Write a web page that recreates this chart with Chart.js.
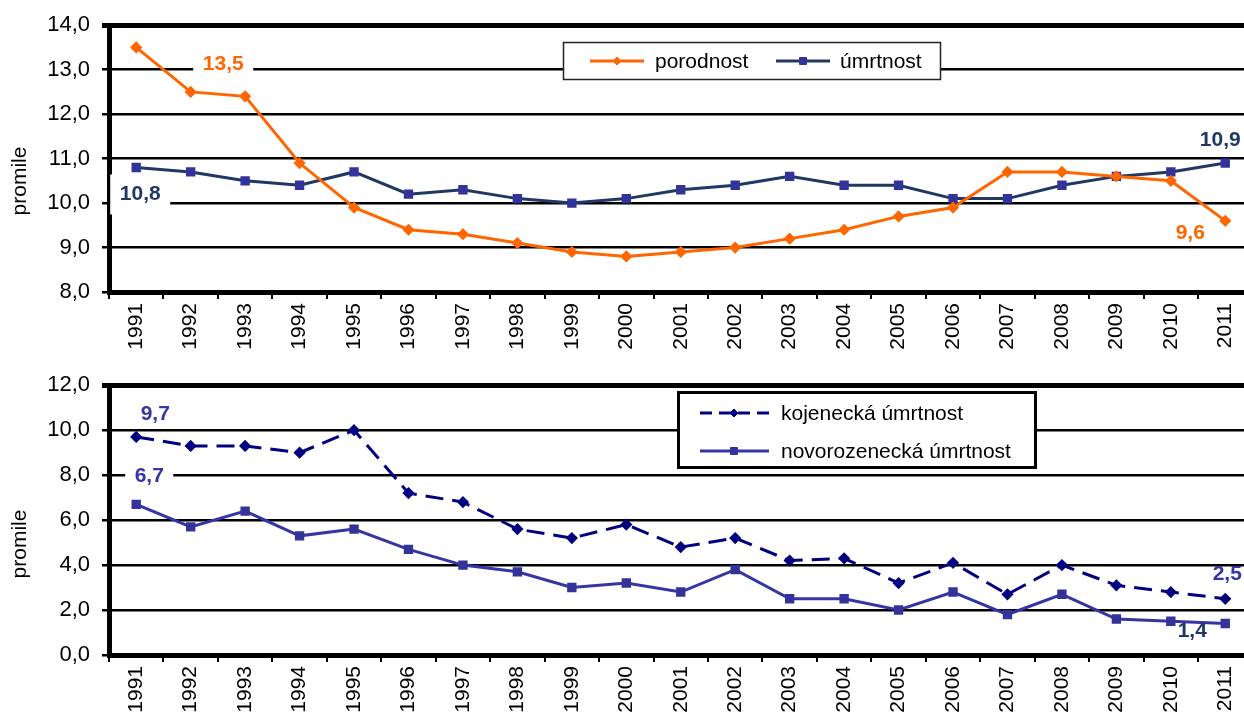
<!DOCTYPE html>
<html><head><meta charset="utf-8">
<script src="https://cdn.jsdelivr.net/npm/chart.js@4/dist/chart.umd.min.js"></script>
<style>
html,body{margin:0;padding:0;background:#fff;overflow:hidden;width:1244px;height:722px;}
#wrap{position:relative;width:1244px;height:722px;overflow:hidden;}
.box{position:absolute;left:0;}
</style></head>
<body>
<div id="wrap">
<div class="box" style="top:0"><canvas id="c1" width="1260" height="370"></canvas></div>
<div class="box" style="top:360px"><canvas id="c2" width="1260" height="362"></canvas></div>
</div>
<script>
const years = ['1991','1992','1993','1994','1995','1996','1997','1998','1999','2000','2001','2002','2003','2004','2005','2006','2007','2008','2009','2010','2011'];
const porodnost = [13.5,12.5,12.4,10.9,9.9,9.4,9.3,9.1,8.9,8.8,8.9,9.0,9.2,9.4,9.7,9.9,10.7,10.7,10.6,10.5,9.6];
const umrtnost = [10.8,10.7,10.5,10.4,10.7,10.2,10.3,10.1,10.0,10.1,10.3,10.4,10.6,10.4,10.4,10.1,10.1,10.4,10.6,10.7,10.9];
const kojenecka = [9.7,9.3,9.3,9.0,10.0,7.2,6.8,5.6,5.2,5.8,4.8,5.2,4.2,4.3,3.2,4.1,2.7,4.0,3.1,2.8,2.5];
const novorozenecka = [6.7,5.7,6.4,5.3,5.6,4.7,4.0,3.7,3.0,3.2,2.8,3.8,2.5,2.5,2.0,2.8,1.8,2.7,1.6,1.5,1.4];
const seriesNames1 = ['porodnost','úmrtnost'];
const seriesNames2 = ['kojenecká úmrtnost','novorozenecká úmrtnost'];
const yTitle = 'promile';

const FONT = '"Liberation Sans", Arial, sans-serif';
const ORANGE = '#FF6600', NAVY = '#1F3864', SQ = '#333399', DARKBLUE = '#000080', PURPLE = '#3535A3';
const fmt = v => v.toFixed(1).replace('.', ',');

function marker(ctx, style, x, y, r, color) {
  ctx.save();
  ctx.fillStyle = color; ctx.strokeStyle = color; ctx.lineWidth = 1;
  ctx.beginPath();
  if (style === 'rectRot') { ctx.moveTo(x, y - r); ctx.lineTo(x + r, y); ctx.lineTo(x, y + r); ctx.lineTo(x - r, y); ctx.closePath(); }
  else { ctx.rect(x - r, y - r, 2 * r, 2 * r); }
  ctx.fill(); ctx.stroke();
  ctx.restore();
}

function valueLabels(list) {
  return {
    id: 'vlabels',
    afterDraw(chart) {
      const ctx = chart.ctx;
      ctx.save();
      ctx.font = 'bold 21px ' + FONT;
      ctx.textAlign = 'center'; ctx.textBaseline = 'middle';
      list.forEach(l => {
        const pt = chart.getDatasetMeta(l.ds).data[l.i];
        const v = chart.data.datasets[l.ds].data[l.i];
        const x = pt.x + l.dx, y = pt.y + l.dy;
        const txt = fmt(v);
        if (l.bw) {
          const bx = x + (l.bx || 0);
          ctx.fillStyle = '#fff'; ctx.fillRect(bx - l.bw / 2, y - l.bh / 2, l.bw, l.bh);
        }
        ctx.fillStyle = l.color;
        ctx.fillText(txt, x, y);
      });
      ctx.restore();
    }
  };
}

function yTitlePlugin(cy) {
  return {
    id: 'ytitle',
    afterDraw(chart) {
      const ctx = chart.ctx;
      ctx.save();
      ctx.translate(20, cy); ctx.rotate(-Math.PI / 2);
      ctx.font = '21px ' + FONT; ctx.fillStyle = '#000';
      ctx.textAlign = 'center'; ctx.textBaseline = 'middle';
      ctx.fillText(yTitle, 0, 0);
      ctx.restore();
    }
  };
}

function legendTop() {
  return {
    id: 'leg1',
    afterDraw(chart) {
      const ctx = chart.ctx, ds = chart.data.datasets;
      ctx.save();
      ctx.fillStyle = '#fff'; ctx.fillRect(563, 42, 378, 38);
      ctx.strokeStyle = '#222'; ctx.lineWidth = 1.5; ctx.strokeRect(563.5, 42.5, 377, 37);
      const items = [{x: 590, tx: 655}, {x: 776, tx: 840}];
      ctx.font = '21px ' + FONT; ctx.textBaseline = 'middle'; ctx.textAlign = 'left';
      items.forEach((it, k) => {
        const d = ds[k];
        ctx.strokeStyle = d.borderColor; ctx.lineWidth = 3;
        ctx.beginPath(); ctx.moveTo(it.x, 61); ctx.lineTo(it.x + 54, 61); ctx.stroke();
        marker(ctx, d.pointStyle, it.x + 27, 61, d.pointStyle === 'rectRot' ? 4 : 3.5, d.pointBackgroundColor);
        ctx.fillStyle = '#000'; ctx.fillText(d.label, it.tx, 62);
      });
      ctx.restore();
    }
  };
}

function legendBottom() {
  return {
    id: 'leg2',
    afterDraw(chart) {
      const ctx = chart.ctx, ds = chart.data.datasets;
      ctx.save();
      const top = 31;
      ctx.fillStyle = '#fff'; ctx.fillRect(677, top, 360, 78);
      ctx.strokeStyle = '#000'; ctx.lineWidth = 3; ctx.strokeRect(678.5, top + 1.5, 357, 75);
      ctx.font = '21px ' + FONT; ctx.textBaseline = 'middle'; ctx.textAlign = 'left';
      const ys = [top + 22, top + 60];
      ds.forEach((d, k) => {
        const y = ys[k];
        ctx.strokeStyle = d.borderColor; ctx.lineWidth = 3;
        ctx.setLineDash(k === 0 ? [12, 7] : []);
        ctx.beginPath(); ctx.moveTo(700, y); ctx.lineTo(769, y); ctx.stroke();
        ctx.setLineDash([]);
        marker(ctx, d.pointStyle, 734, y, d.pointStyle === 'rectRot' ? 4 : 3.5, d.pointBackgroundColor);
        ctx.fillStyle = '#000'; ctx.fillText(d.label, 781, y + 1);
      });
      ctx.restore();
    }
  };
}

function makeOptions(min, max, step, chartTop, xHeight) {
  return {
    responsive: false, animation: false,
    layout: {padding: {top: chartTop, left: 0, right: 0, bottom: 0}},
    plugins: {legend: {display: false}, tooltip: {enabled: false}},
    scales: {
      x: {
        type: 'category', offset: true,
        afterFit(s) { s.height = xHeight; },
        grid: {drawOnChartArea: false, drawTicks: true, tickLength: 7, color: '#000', lineWidth: 2, offset: true},
        border: {display: true, color: '#000', width: 5},
        ticks: {minRotation: 90, maxRotation: 90, autoSkip: false, color: '#000', font: {family: FONT, size: 21}, padding: 4}
      },
      y: {
        min: min, max: max,
        afterFit(s) { s.width = 109; },
        grid: {color: '#000', lineWidth: c => (c.tick && c.tick.value === max) ? 5 : 2.5, tickLength: 7, drawTicks: true},
        border: {display: true, color: '#000', width: 5},
        ticks: {stepSize: step, color: '#000', font: {family: FONT, size: 22}, padding: 12, callback: v => fmt(v)}
      }
    }
  };
}

new Chart(document.getElementById('c1'), {
  type: 'line',
  data: {
    labels: years,
    datasets: [
      {label: seriesNames1[0], data: porodnost, borderColor: ORANGE, borderWidth: 3, pointStyle: 'rectRot', pointRadius: 4, pointBackgroundColor: ORANGE, pointBorderColor: ORANGE, tension: 0},
      {label: seriesNames1[1], data: umrtnost, borderColor: NAVY, borderWidth: 3, pointStyle: 'rect', pointRadius: 4.5, pointBackgroundColor: SQ, pointBorderColor: SQ, tension: 0}
    ]
  },
  options: makeOptions(8, 14, 1, 23, 78),
  plugins: [
    valueLabels([
      {ds: 0, i: 0, dx: 87, dy: 17, color: ORANGE, bw: 60, bh: 26},
      {ds: 1, i: 0, dx: 4, dy: 27, color: NAVY, bw: 60, bh: 40},
      {ds: 1, i: 20, dx: -5, dy: -23, color: NAVY},
      {ds: 0, i: 20, dx: -35, dy: 12, color: ORANGE}
    ]),
    yTitlePlugin(181), legendTop()
  ]
});

new Chart(document.getElementById('c2'), {
  type: 'line',
  data: {
    labels: years,
    datasets: [
      {label: seriesNames2[0], data: kojenecka, borderColor: DARKBLUE, borderWidth: 3, borderDash: [18, 9], pointStyle: 'rectRot', pointRadius: 4, pointBackgroundColor: DARKBLUE, pointBorderColor: DARKBLUE, tension: 0},
      {label: seriesNames2[1], data: novorozenecka, borderColor: PURPLE, borderWidth: 3, pointStyle: 'rect', pointRadius: 4.5, pointBackgroundColor: SQ, pointBorderColor: SQ, tension: 0}
    ]
  },
  options: makeOptions(0, 12, 2, 25, 67),
  plugins: [
    valueLabels([
      {ds: 0, i: 0, dx: 19, dy: -23, color: PURPLE, bw: 66, bh: 30, bx: -10},
      {ds: 1, i: 0, dx: 13, dy: -28, color: PURPLE, bw: 48, bh: 26},
      {ds: 0, i: 20, dx: 2, dy: -25, color: PURPLE},
      {ds: 1, i: 20, dx: -33, dy: 8, color: NAVY}
    ]),
    yTitlePlugin(184), legendBottom()
  ]
});
</script>
</body></html>
